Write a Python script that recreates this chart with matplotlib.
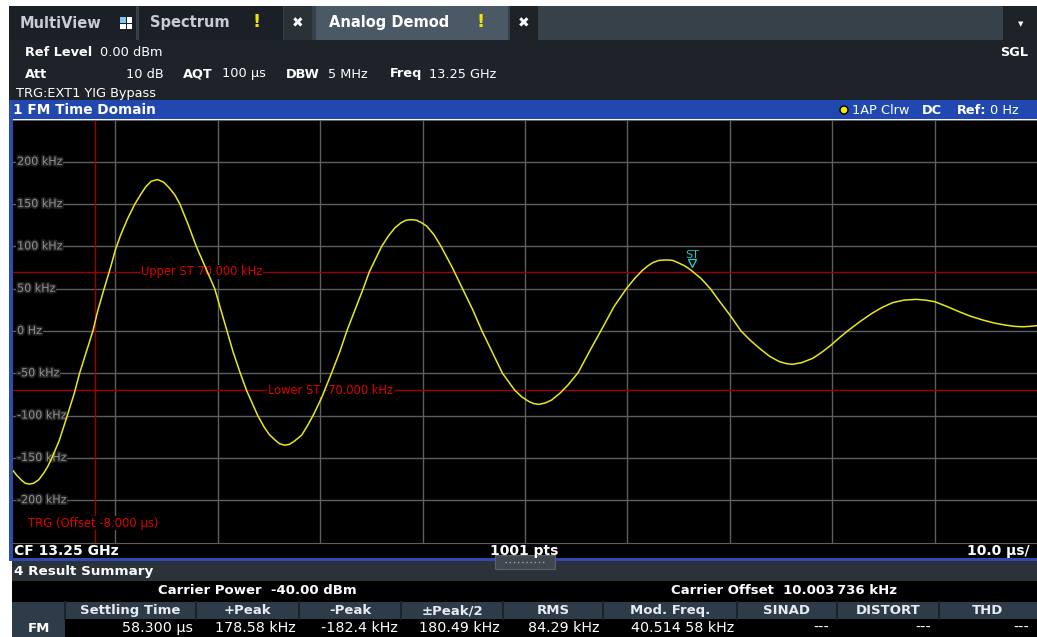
import matplotlib
matplotlib.use("Agg")
import matplotlib.pyplot as plt
import matplotlib.patheffects as pe
import matplotlib.transforms as mtransforms
from matplotlib.patches import Rectangle, Circle

plt.rcParams['font.family'] = ['DejaVu Sans']

W, H = 1037, 637

# FM deviation trace: time since capture start (us) / kHz
trace_t = [0.0, 0.4, 0.8, 1.2, 1.6, 2.0, 2.5, 3.0, 3.4, 3.8, 4.5, 5.3, 6.0,
           6.5, 7.2, 7.8, 8.3, 8.9, 9.5, 10.0, 10.5, 11.2, 11.9, 12.5, 13.0,
           13.5, 14.1, 14.7, 15.2, 15.8, 16.3, 17.1, 17.9, 18.8, 19.7, 20.3,
           20.9, 21.5, 22.2, 22.8, 23.9, 24.5, 25.0, 25.6, 26.0, 26.5, 27.0,
           27.5, 28.2, 28.8, 29.3, 30.1, 31.1, 31.9, 32.6, 33.4, 34.2, 34.8,
           36.0, 36.7, 37.3, 37.9, 38.4, 38.9, 39.4, 39.9, 40.4, 41.1, 41.8,
           42.9, 43.9, 44.9, 45.8, 46.8, 47.8, 49.0, 49.7, 50.4, 50.9, 51.4,
           52.0, 52.6, 53.4, 54.2, 55.2, 56.3, 57.4, 58.7, 59.9, 60.7, 61.5,
           62.0, 62.5, 63.1, 63.8, 64.4, 64.9, 65.6, 66.2, 67.2, 68.1, 69.0,
           70.0, 71.1, 72.0, 72.9, 73.9, 74.8, 75.5, 76.1, 77.0, 78.1, 79.0,
           79.9, 80.7, 81.5, 82.7, 83.9, 84.9, 85.9, 87.0, 88.2, 89.1, 90.0,
           91.2, 92.4, 93.5, 94.7, 95.8, 96.9, 97.8, 98.6, 99.3, 100.0]
trace_khz = [-165, -171, -176, -180, -181, -180, -176, -168, -160, -150,
             -130, -100, -73, -50, -23, 0, 25, 50, 74, 96, 113, 133, 150, 162,
             171, 177, 179, 176, 170, 161, 150, 126, 100, 75, 50, 25, 0, -25,
             -50, -70, -100, -113, -122, -129, -133, -135, -134, -130, -123,
             -111, -100, -80, -50, -25, 0, 25, 50, 70, 100, 113, 122, 128, 131,
             131.6, 131, 128, 124, 114, 100, 75, 50, 25, 0, -25, -50, -70,
             -78, -83.5, -86, -86.7, -85, -81.6, -73.7, -63.8, -49, -24, 0, 29,
             50, 62, 72, 77, 81, 83.5, 84, 83.5, 81, 77, 72, 62, 50, 35, 19, 0,
             -11, -20.5, -30, -36, -38.5, -39.4, -37.5, -32.3, -25, -16.5, -8,
             0, 11, 21, 28, 33.5, 36.5, 37.4, 36.5, 34.7, 29, 22.8, 17.5, 13,
             9.5, 7, 5.5, 5, 5.5, 6.3]

y_ticks = [200, 150, 100, 50, 0, -50, -100, -150, -200]
y_labels = ['200 kHz', '150 kHz', '100 kHz', '50 kHz', '0 Hz', '-50 kHz',
            '-100 kHz', '-150 kHz', '-200 kHz']
x_ticks = [10, 20, 30, 40, 50, 60, 70, 80, 90]
upper_st = 70.0
lower_st = -70.0
trg_t = 8.0    # trigger offset -8 us
st_t = 66.3    # settling marker, 58.3 us after trigger

result_cols = ['Settling Time', '+Peak', '-Peak', '\u00b1Peak/2', 'RMS',
               'Mod. Freq.', 'SINAD', 'DISTORT', 'THD']
result_vals = ['58.300 \u00b5s', '178.58 kHz', '-182.4 kHz', '180.49 kHz',
               '84.29 kHz', '40.514 58 kHz', '---', '---', '---']
col_edges = [65, 196, 299, 401, 503, 603, 737, 837, 939, 1037]

fig = plt.figure(figsize=(W / 100, H / 100), dpi=100)
fig.patch.set_facecolor('white')

# background layer in pixel coordinates
bg = fig.add_axes([0, 0, 1, 1])
bg.set_xlim(0, W)
bg.set_ylim(H, 0)
bg.axis('off')


def box(x0, y0, x1, y1, color):
    bg.add_patch(Rectangle((x0, y0), x1 - x0, y1 - y0, color=color, lw=0))


def txt(x, y, s, size=9.3, color='white', bold=False, ha='left', **kw):
    bg.text(x, y, s, fontsize=size, color=color, ha=ha, va='center',
            fontweight='bold' if bold else 'normal', **kw)


# tab bar
box(9, 6, W, 40, '#36414a')
box(9, 6, 136, 40, '#1b2026')
box(139, 6, 283, 40, '#1b2026')
box(284, 6, 312, 40, '#2a3137')
box(316, 6, 508, 40, '#4b5966')
box(510, 6, 538, 40, '#1d2227')
box(1003, 6, W, 40, '#1d2227')
txt(20, 23, 'MultiView', 10.5, '#c9cdd1', True)
for (qx, qy, qc) in [(120, 17, '#7fc8f0'), (126.5, 17, 'white'),
                     (120, 23.5, 'white'), (126.5, 23.5, 'white')]:
    box(qx, qy, qx + 5.5, qy + 5.5, qc)
txt(150, 23, 'Spectrum', 10.5, '#c9cdd1', True)
txt(257, 22, '!', 13, '#f2e400', True, ha='center')
txt(298, 23, '\u2716', 10, 'white', ha='center')
txt(329, 23, 'Analog Demod', 10.5, 'white', True)
txt(481, 22, '!', 13, '#f2e400', True, ha='center')
txt(524, 23, '\u2716', 10, 'white', ha='center')
txt(1021, 24, '\u25bc', 5, 'white', ha='center')

# settings area
box(9, 40, W, 100, '#1e2329')
txt(25, 52, 'Ref Level', bold=True)
txt(100, 52, '0.00 dBm')
txt(1028, 52, 'SGL', bold=True, ha='right')
txt(25, 74, 'Att', bold=True)
txt(164, 74, '10 dB', ha='right')
txt(183, 74, 'AQT', bold=True)
txt(222, 74, '100 \u00b5s')
txt(286, 74, 'DBW', bold=True)
txt(328, 74, '5 MHz')
txt(390, 74, 'Freq', bold=True)
txt(429, 74, '13.25 GHz')
txt(16, 93, 'TRG:EXT1 YIG Bypass')

# window title bar and frame
blue = '#2148b0'
box(10, 100, W, 119, blue)
box(9, 100, 13, 561, '#2d4ea6')
txt(13, 110, '1 FM Time Domain', 9.8, bold=True)
bg.add_patch(Circle((844, 110), 4, facecolor='#f5e800', edgecolor='black', lw=1))
txt(852, 110, '1AP Clrw')
txt(922, 110, 'DC', bold=True)
txt(957, 110, 'Ref:', bold=True)
txt(990, 110, '0 Hz')

# footer of the diagram
box(13, 542, W, 558, 'black')
box(9, 558, W, 561, '#2a4cb4')
txt(14, 551, 'CF 13.25 GHz', 10, bold=True)
txt(524, 551, '1001 pts', 10, bold=True, ha='center')
txt(1030, 551, '10.0 \u00b5s/', 10, bold=True, ha='right')

# result summary
box(12, 561, W, 581, '#2b3239')
bg.add_patch(Rectangle((495, 555), 60, 14, facecolor='#41474e',
                       edgecolor='#5b6168', lw=0.8))
bg.plot([505, 545], [562, 562], color='#a0a6ac', lw=1, ls=(0, (1, 2)))
txt(14, 571, '4 Result Summary', 9.7, bold=True)
box(12, 581, W, 602, 'black')
txt(257, 591, 'Carrier Power  -40.00 dBm', 9.5, bold=True, ha='center')
txt(784, 591, 'Carrier Offset  10.003\u2009736 kHz', 9.5, bold=True,
    ha='center')
box(12, 602, W, 619, '#2e3c4a')
box(12, 619, W, H, 'black')
box(12, 602, col_edges[0], H, '#2e3c4a')
txt(39, 628, 'FM', 9.5, bold=True, ha='center')
for i, (name, val) in enumerate(zip(result_cols, result_vals)):
    x0, x1 = col_edges[i], col_edges[i + 1]
    bg.plot([x0, x0], [602, 619], color='#1c2228', lw=1.5)
    txt((x0 + x1) / 2, 610.5, name, 9.5, '#e8ecf0', True, ha='center')
    pad = 8 if val == '---' else 3
    txt(x1 - pad, 628, val, 10.3, 'white', ha='right')

# trace diagram
grid = '#5e5e5e'
ax = fig.add_axes([13 / W, 1 - 542.5 / H, 1024 / W, 423 / H])
ax.set_facecolor('black')
ax.set_xlim(0, 100)
ax.set_ylim(-250, 250)
ax.set_xticks([])
ax.set_yticks([])
for side in ['left', 'right']:
    ax.spines[side].set_visible(False)
for side in ['top', 'bottom']:
    ax.spines[side].set_color(grid)

for v in y_ticks:
    ax.axhline(v, color=grid, lw=1, zorder=1)
for t in x_ticks:
    ax.axvline(t, color=grid, lw=1, zorder=1)

ax.axhline(upper_st, color='#9c0000', lw=1, zorder=2)
ax.axhline(lower_st, color='#9c0000', lw=1, zorder=2)
ax.axvline(trg_t, color='#9c0000', lw=1, zorder=2)

glow = [pe.withStroke(linewidth=2.5, foreground='#222222')]
for v, lab in zip(y_ticks, y_labels):
    ax.text(0.4, v, lab, fontsize=8, color='#909090', va='center',
            zorder=3, path_effects=glow,
            bbox=dict(facecolor='black', edgecolor='none', pad=0.5))

red = '#dc0000'
ax.text(12.5, upper_st, 'Upper ST 70.000 kHz', fontsize=8.3, color=red,
        va='center', zorder=3,
        bbox=dict(facecolor='black', edgecolor='none', pad=0.5))
ax.text(24.9, lower_st, 'Lower ST -70.000 kHz', fontsize=8.3, color=red,
        va='center', zorder=3,
        bbox=dict(facecolor='black', edgecolor='none', pad=0.5))
ax.text(1.5, -227, 'TRG (Offset -8.000 \u00b5s)', fontsize=8.4, color=red,
        va='center', zorder=3,
        bbox=dict(facecolor='black', edgecolor='none', pad=0.5))

ax.plot(trace_t, trace_khz, color='#e8e818', lw=1.1, zorder=4)

cyan = '#1ec8c8'
lift = mtransforms.ScaledTranslation(0, 6 / 72, fig.dpi_scale_trans)
ax.plot([st_t], [upper_st], marker='v', ms=6, mfc='none', mec=cyan,
        mew=1, zorder=5, transform=ax.transData + lift)
ax.annotate('ST', xy=(st_t, upper_st), xytext=(0, 12),
            textcoords='offset pixels', fontsize=8, color=cyan,
            ha='center', va='bottom', zorder=5)

fig.savefig('out.png', dpi=100, facecolor='white')
